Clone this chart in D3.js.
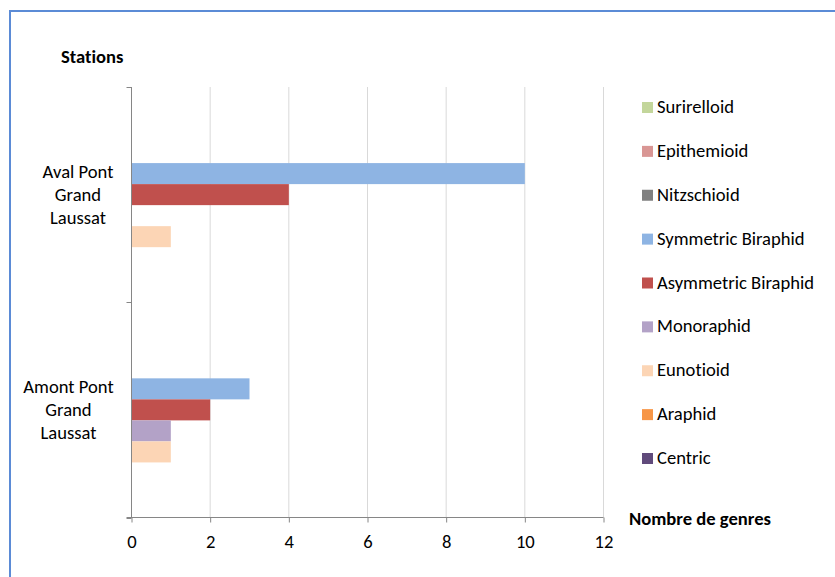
<!DOCTYPE html>
<html>
<head>
<meta charset="utf-8">
<script src="https://cdn.jsdelivr.net/npm/d3@7"></script>
<style>
  html, body { margin: 0; padding: 0; background: #fff; }
  svg { display: block; font-family: Carlito, Calibri, "Open Sans", sans-serif; font-variant-ligatures: none; }
</style>
</head>
<body>
<svg id="chart" width="835" height="577"></svg>
<script>
// Stations (top to bottom as drawn)
const stations = ["Aval Pont Grand Laussat", "Amont Pont Grand Laussat"];
const stationLines = [["Aval Pont", "Grand", "Laussat"], ["Amont Pont", "Grand", "Laussat"]];

// Morphological groups, in legend order (also top-to-bottom inside each station band)
const groups = ["Surirelloid", "Epithemioid", "Nitzschioid", "Symmetric Biraphid",
  "Asymmetric Biraphid", "Monoraphid", "Eunotioid", "Araphid", "Centric"];
const groupColors = ["#c3d69b", "#d99694", "#808080", "#8eb4e3",
  "#c0504d", "#b3a2c7", "#fcd5b5", "#f79646", "#604a7b"];

// Number of genera per group, one array per station
const avalValues  = [0, 0, 0, 10, 4, 0, 1, 0, 0];
const amontValues = [0, 0, 0, 3, 2, 1, 1, 0, 0];
const stationValues = [avalValues, amontValues];

const xTicks = [0, 2, 4, 6, 8, 10, 12];

const FS = "18.6px";
const svg = d3.select("#chart");

// Chart frame
svg.append("rect")
  .attr("x", 10).attr("y", 11).attr("width", 840).attr("height", 580)
  .attr("fill", "none").attr("stroke", "#5b8bd6").attr("stroke-width", 2);

const plot = { left: 131.5, right: 603.5, top: 87, bottom: 517.5 };

const x = d3.scaleLinear().domain([0, 12]).range([plot.left, plot.right]);
const y = d3.scaleBand().domain(stations).range([plot.top, plot.bottom]).padding(0);
const inner = d3.scaleBand().domain(groups).range([0, y.bandwidth()])
  .paddingInner(0).paddingOuter(0.62);

// Vertical gridlines
svg.append("g").selectAll("line").data(xTicks.slice(1)).join("line")
  .attr("x1", d => x(d)).attr("x2", d => x(d))
  .attr("y1", plot.top).attr("y2", plot.bottom)
  .attr("stroke", "#d9d9d9").attr("stroke-width", 1);

// Bars
stations.forEach((s, si) => {
  svg.append("g").selectAll("rect")
    .data(groups.map((g, gi) => ({ g, v: stationValues[si][gi], c: groupColors[gi] })))
    .join("rect")
    .attr("x", x(0))
    .attr("y", d => y(s) + inner(d.g))
    .attr("width", d => x(d.v) - x(0))
    .attr("height", inner.bandwidth())
    .attr("fill", d => d.c);
});

// X axis
const xAxis = d3.axisBottom(x).tickValues(xTicks).tickSize(5).tickFormat(d3.format("d"));
const gx = svg.append("g").attr("transform", `translate(0,${plot.bottom})`).call(xAxis);
gx.select(".domain").attr("stroke", "#868686").attr("d", `M${plot.left - 5},0H${plot.right}`);
gx.selectAll(".tick line").attr("stroke", "#868686");
gx.selectAll(".tick text").attr("fill", "#000").attr("y", 30.5).attr("dy", 0)
  .style("font-size", FS)
  .style("font-family", "Carlito, Calibri, 'Open Sans', sans-serif");

// Y axis: line with ticks at the station boundaries
const gy = svg.append("g");
gy.append("line").attr("x1", plot.left).attr("x2", plot.left)
  .attr("y1", plot.top).attr("y2", plot.bottom).attr("stroke", "#868686");
const bounds = stations.map(s => y(s)).concat([plot.bottom]);
gy.selectAll("line.tk").data(bounds).join("line").attr("class", "tk")
  .attr("x1", plot.left - 5).attr("x2", plot.left)
  .attr("y1", d => Math.round(d) + 0.5).attr("y2", d => Math.round(d) + 0.5)
  .attr("stroke", "#868686");

// Station labels (wrapped over three lines, centred in the label column)
const labelCenters = [78, 68.5];
stations.forEach((s, si) => {
  const cy = y(s) + y.bandwidth() / 2 - 23;
  const t = svg.append("text").attr("text-anchor", "middle")
    .style("font-size", FS).attr("fill", "#000");
  stationLines[si].forEach((ln, li) => {
    t.append("tspan").attr("x", labelCenters[si]).attr("y", cy + 6 + li * 23).text(ln);
  });
});

// Axis titles
svg.append("text").attr("x", 61).attr("y", 63).text("Stations")
  .style("font-size", FS).style("font-weight", "bold");
svg.append("text").attr("x", 629).attr("y", 525).text("Nombre de genres")
  .style("font-size", FS).style("font-weight", "bold");

// Legend
const legend = svg.append("g");
const legendY = d3.scalePoint().domain(groups).range([107, 458]);
const items = legend.selectAll("g").data(groups).join("g")
  .attr("transform", d => `translate(642,${legendY(d)})`);
items.append("rect").attr("x", 0).attr("y", -5).attr("width", 11).attr("height", 11)
  .attr("fill", (d, i) => groupColors[i]);
items.append("text").attr("x", 15).attr("y", 6).text(d => d)
  .style("font-size", FS).attr("fill", "#000");
</script>
</body>
</html>
